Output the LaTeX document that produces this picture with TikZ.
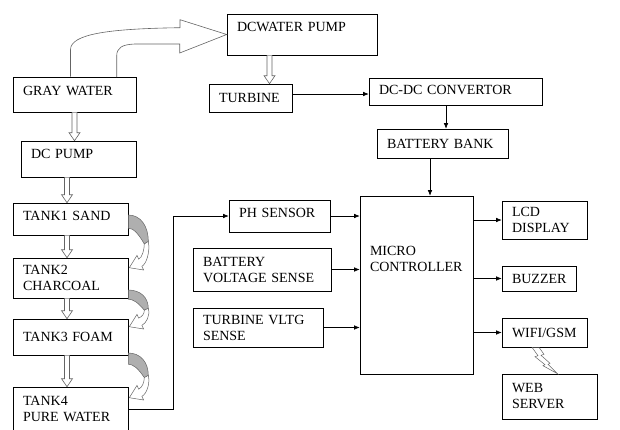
\documentclass[tikz,border=0pt]{standalone}
\usepackage{fontspec}
\setmainfont{Liberation Serif}
\usetikzlibrary{positioning,arrows.meta,calc}
\definecolor{edge}{RGB}{100,100,100}
\definecolor{curlback}{RGB}{175,175,175}
\tikzset{
  blk/.style={draw=black,line width=0.6pt,inner xsep=10pt,inner ysep=2pt,
              align=left,font=\fontsize{14}{16}\selectfont},
  arr/.style={-{Latex[length=5.5pt,width=4.5pt]},line width=0.6pt},
  hollow/.style={draw=edge,line width=0.6pt,fill=white},
  curlgray/.style={draw=edge,line width=0.5pt,fill=curlback},
  curlwhite/.style={draw=edge,line width=0.5pt,fill=white},
  bolt/.style={draw=edge,line width=0.5pt},
}
% hollow block arrow straight down: from node, to node, x shift
\newcommand\hollowdown[3]{%
  \draw[hollow] let \p1=($(#1.south)+(#3,0)$), \p2=(#2.north) in
    (\x1-2.5,\y1) -- (\x1-2.5,\y2+8) -- (\x1-5.5,\y2+8) -- (\x1,\y2)
    -- (\x1+5.5,\y2+8) -- (\x1+2.5,\y2+8) -- (\x1+2.5,\y1);}

\begin{document}
\begin{tikzpicture}[x=1pt,y=-1pt]
  \useasboundingbox (0,0) rectangle (620,429);

  % water side
  \node[blk,minimum width=123pt,minimum height=35pt,text width=103pt,
        text depth=8pt] (gray) at (74.5,94.5) {GRAY WATER};
  \node[blk,minimum width=115pt,minimum height=36pt,text width=95pt,
        text depth=10pt] (dcpump) at (78.5,159) {DC PUMP};
  \node[blk,minimum width=115pt,minimum height=32pt,text width=95pt,
        text depth=6pt] (tank1) at (70.5,219) {TANK1 SAND};
  \node[blk,minimum width=115pt,minimum height=40pt,text width=95pt]
        (tank2) at (70.5,278) {TANK2\\CHARCOAL};
  \node[blk,minimum width=115pt,minimum height=36pt,text width=95pt]
        (tank3) at (70.5,337) {TANK3 FOAM};
  \node[blk,minimum width=115pt,minimum height=44pt,text width=95pt]
        (tank4) at (70.5,409) {TANK4\\PURE WATER};

  % power side
  \node[blk,minimum width=150pt,minimum height=41pt,text width=130pt,
        text depth=15pt] (wpump) at (302,34.5) {DCWATER PUMP};
  \node[blk,minimum width=83pt,minimum height=28pt,text width=63pt]
        (turbine) at (250.5,98) {TURBINE};
  \node[blk,minimum width=173pt,minimum height=27pt,text width=153pt,
        text depth=3pt] (dcdc) at (455.5,91.5) {DC-DC CONVERTOR};
  \node[blk,minimum width=131pt,minimum height=29pt,text width=111pt]
        (batt) at (442.5,143.5) {BATTERY BANK};

  % control side
  \node[blk,minimum width=113pt,minimum height=178pt,text width=93pt,
        text depth=68pt] (micro) at (416.5,285) {MICRO\\CONTROLLER};
  \node[blk,minimum width=101pt,minimum height=32pt,text width=81pt,
        text depth=6pt] (ph) at (279.5,216) {PH SENSOR};
  \node[blk,minimum width=138pt,minimum height=43pt,text width=118pt]
        (bvs) at (262,269.5) {BATTERY\\VOLTAGE SENSE};
  \node[blk,minimum width=130pt,minimum height=39pt,text width=110pt]
        (tvs) at (258,327.5) {TURBINE VLTG\\SENSE};
  \node[blk,minimum width=85pt,minimum height=38pt,text width=65pt]
        (lcd) at (544.5,220) {LCD\\DISPLAY};
  \node[blk,minimum width=74pt,minimum height=25pt,text width=54pt]
        (buzzer) at (539,278.5) {BUZZER};
  \node[blk,minimum width=85pt,minimum height=29pt,text width=65pt]
        (wifi) at (544.5,332.5) {WIFI/GSM};
  \node[blk,minimum width=95pt,minimum height=45pt,text width=75pt]
        (web) at (549.5,396.5) {WEB\\SERVER};

  % hollow arrows
  \hollowdown{gray}{dcpump}{0}
  \hollowdown{dcpump}{tank1}{-11.5}
  \hollowdown{tank1}{tank2}{-3.5}
  \hollowdown{tank2}{tank3}{-3.5}
  \hollowdown{tank3}{tank4}{-3.5}
  \hollowdown{wpump}{turbine}{-32.5}

  % bent block arrow to the pump
  \draw[hollow,fill=none] ([xshift=-4pt]gray.north) -- ++(0,-27)
    .. controls +(0,-16) and +(-70,1) .. ++(109.5,-22) -- ++(0,-8)
    -- (wpump.west) -- ++(-47,18.5) -- ++(0,-9) -- ++(-45,0)
    .. controls +(-13,0.5) and +(0,-8) .. ++(-18,12) -- ++(0,21);

  % curled arrows beside the tanks
  \foreach \ua/\ub/\ds/\dt in {tank1/tank2/-4/10,tank2/tank3/12/8,tank3/tank4/16/11}{
    \draw[curlgray] let \p1=($(\ua.east)+(0,\ds)$), \p2=($(\ub.north east)+(0,\dt)$),
      \n1={\y1-\y2} in
      (\x1,\y1) .. controls (\x1+12,\y1) and (\x1+20,\y1-0.2*\n1) .. (\x1+20,\y1-0.5*\n1)
      -- (\x1+16,\y1-0.55*\n1) .. controls (\x1+10,\y1-0.35*\n1) and (\x1+5,\y1-0.25*\n1)
      .. (\x1,\y1-0.25*\n1) -- cycle;
    \draw[curlwhite] let \p1=($(\ua.east)+(0,\ds)$), \p2=($(\ub.north east)+(0,\dt)$),
      \n1={\y1-\y2} in
      (\x1+20,\y1-0.5*\n1) .. controls (\x1+22,\y1-0.7*\n1) and (\x1+18,\y2+3.5)
      .. (\x1+13.6,\y2+1.4) -- (\x1+15.3,\y2-2.3) -- (\x1+1,\y2)
      -- (\x1+8.7,\y2+12.3) -- (\x1+10.4,\y2+8.6)
      .. controls (\x1+14,\y2+10.2) and (\x1+16,\y1-0.65*\n1) .. (\x1+16,\y1-0.55*\n1) -- cycle;
  }

  % signal lines
  \draw[arr] ([yshift=4pt]turbine.east) -- ([yshift=-2.5pt]dcdc.west);
  \draw[arr] ([xshift=-9.5pt]dcdc.south) -- ([xshift=3.5pt]batt.north);
  \draw[arr] ([xshift=-12.5pt]batt.south) -- ([xshift=13.5pt]micro.north);
  \draw[arr] (tank4.east) -- ++(45,0) |- (ph.west);
  \draw[arr] (ph.east) -- (ph.east -| micro.west);
  \draw[arr] (bvs.east) -- (bvs.east -| micro.west);
  \draw[arr] (tvs.east) -- (tvs.east -| micro.west);
  \draw[arr] (micro.east |- lcd.west) -- (lcd.west);
  \draw[arr] (micro.east |- buzzer.west) -- (buzzer.west);
  \draw[arr] (micro.east |- wifi.west) -- (wifi.west);

  % wireless link
  \draw[bolt] ([xshift=-12.5pt]wifi.south) -- ++(7,0) -- ++(5,7) -- ++(-3,1)
    -- ++(9,8) -- ++(-2,1) -- ([xshift=8pt]web.north) -- ++(-14.5,-8)
    -- ++(2,-1) -- ++(-10,-8) -- ++(3,-1) -- cycle;
\end{tikzpicture}
\end{document}
